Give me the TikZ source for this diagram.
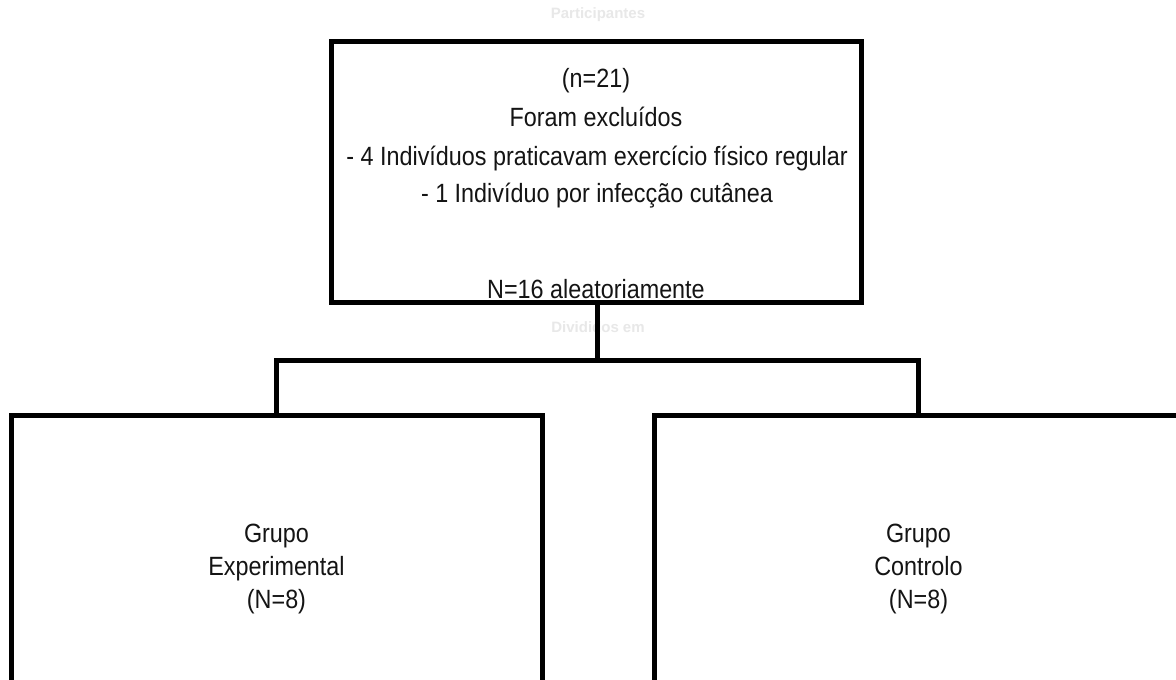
\documentclass[tikz,border=0pt]{standalone}
\usepackage{fontspec}
\setmainfont{Liberation Sans}
\newfontfamily\narrowfont{Liberation Sans}[FakeStretch=0.885]
\begin{document}
\begin{tikzpicture}[x=1pt,y=-1pt,
  boxstyle/.style={draw=black, line width=5pt, rectangle, inner sep=0pt, line join=miter},
  conn/.style={draw=black, line width=5pt, line join=miter, line cap=rect},
  txt/.style={inner sep=0pt, font=\narrowfont\fontsize{26.4}{28}\selectfont, text=black!92},
  grp/.style={txt, align=center, font=\narrowfont\fontsize{26.4}{33}\selectfont},
  ghost/.style={inner sep=0pt, font=\fontsize{15}{18}\selectfont\bfseries, text=black!9}]
\useasboundingbox (0,0) rectangle (1176,680);
\clip (0,0) rectangle (1176,680);
\fill[white] (0,0) rectangle (1176,680);
% faint white labels
\node[ghost] (part) at (598,15) {Participantes};
\node[ghost] (div) at (598,327) {Divididos em};
% boxes
\node[boxstyle, minimum width=530pt, minimum height=261pt] (top) at (596,171.5) {};
\node[boxstyle, minimum width=531pt, minimum height=268pt] (exp) at (276.5,549.5) {};
\node[boxstyle, minimum width=529pt, minimum height=268pt] (ctl) at (918.5,549.5) {};
% connectors
\coordinate (j) at (597.5,360.5);
\draw[conn] (top.south -| j) -- (j);
\draw[conn] (exp.north) |- (j) -| (ctl.north);
% texts
\node[txt] (t1) at (596,81) {(n=21)};
\node[txt] (t2) at (596,117) {Foram excluídos};
\node[txt] (t3) at (597,159) {- 4 Indivíduos praticavam exercício físico regular};
\node[txt] (t4) at (597,196) {- 1 Indivíduo por infecção cutânea};
\node[txt] (t5) at (596,289) {N=16 aleatoriamente};
\node[grp] (g1) at (276.5,569) {Grupo\\Experimental\\(N=8)};
\node[grp] (g2) at (918.5,569) {Grupo\\Controlo\\(N=8)};
\end{tikzpicture}
\end{document}
